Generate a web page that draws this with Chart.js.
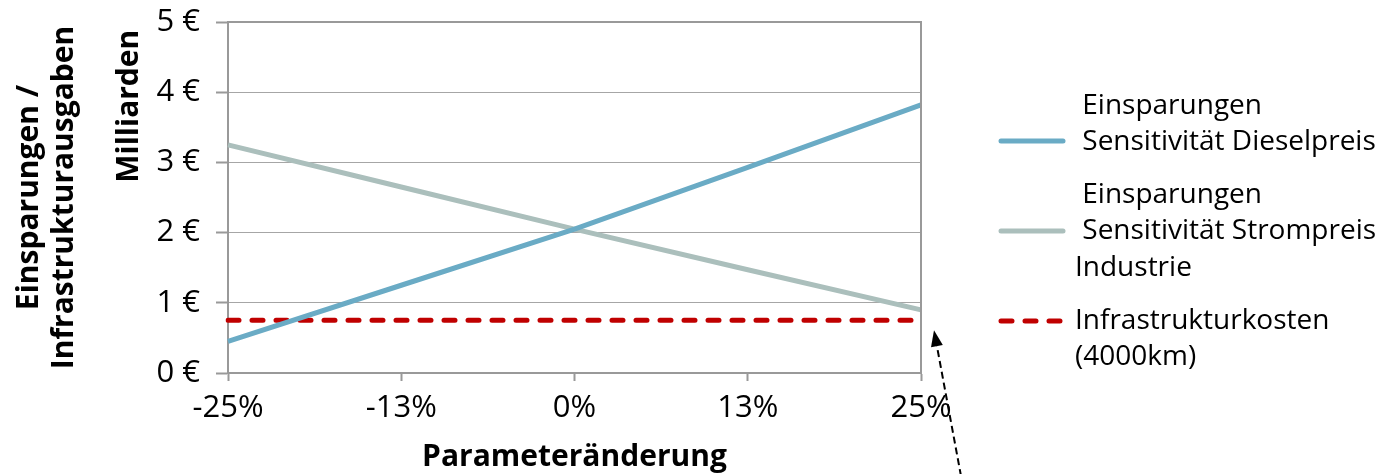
<!DOCTYPE html>
<html>
<head>
<meta charset="utf-8">
<script src="https://cdn.jsdelivr.net/npm/chart.js@4"></script>
<style>
  html, body { margin: 0; padding: 0; background: #fff; }
  #wrap { width: 1387px; height: 474px; position: relative; }
</style>
</head>
<body>
<div id="wrap"><canvas id="c"></canvas></div>
<script>
// Parameter change steps (x axis)
const categories = ['-25%', '-13%', '0%', '13%', '25%'];
// Savings in billion euro when the diesel price varies
const dieselSavings = [0.45, 1.25, 2.05, 2.93, 3.82];
// Savings in billion euro when the industrial electricity price varies
const powerSavings = [3.25, 2.65, 2.05, 1.47, 0.90];
// Infrastructure cost for 4000 km, constant
const infraCost = [0.75, 0.75, 0.75, 0.75, 0.75];
// Value axis ticks (billion euro)
const yTicks = [0, 1, 2, 3, 4, 5];

const legendItems = [
  { lines: [' Einsparungen', ' Sensitivität Dieselpreis'], color: '#6AABC5', dash: [] },
  { lines: [' Einsparungen', ' Sensitivität Strompreis', 'Industrie'], color: '#ABBFBC', dash: [] },
  { lines: ['Infrastrukturkosten', '(4000km)'], color: '#C00000', dash: [11, 13] }
];

const FONT = '"Open Sans", "Liberation Sans", sans-serif';
const TICK_FS = 31;
const TITLE_FS = 30;
const LEGEND_FS = 28;

// Frame (top and right edges), "Milliarden" label, legend and pointer arrow
const extras = {
  id: 'extras',
  afterDraw(chart) {
    const { ctx, chartArea: a, scales: { x, y } } = chart;
    ctx.save();
    // frame
    ctx.strokeStyle = '#999';
    ctx.lineWidth = 2;
    ctx.beginPath();
    ctx.moveTo(a.left, a.top);
    ctx.lineTo(a.right, a.top);
    ctx.lineTo(a.right, a.bottom);
    ctx.stroke();

    // unit label
    ctx.fillStyle = '#000';
    ctx.font = 'bold ' + TITLE_FS + 'px ' + FONT;
    ctx.textAlign = 'center';
    ctx.textBaseline = 'middle';
    ctx.translate(129, y.getPixelForValue(3.8));
    ctx.rotate(-Math.PI / 2);
    ctx.fillText('Milliarden', 0, 0);
    ctx.setTransform(1, 0, 0, 1, 0, 0);

    // legend
    const lx0 = 998, lx1 = 1066;
    const rows = [
      { lineY: 141, firstY: 106, textX: 1075 },
      { lineY: 231, firstY: 195, textX: 1075 },
      { lineY: 321, firstY: 321, textX: 1075 }
    ];
    ctx.font = LEGEND_FS + 'px ' + FONT;
    ctx.textAlign = 'left';
    ctx.textBaseline = 'middle';
    legendItems.forEach((it, i) => {
      const r = rows[i];
      ctx.strokeStyle = it.color;
      ctx.lineWidth = 5;
      ctx.lineCap = 'round';
      ctx.setLineDash(it.dash);
      ctx.beginPath();
      ctx.moveTo(lx0 + 3, r.lineY);
      ctx.lineTo(lx1 - 3, r.lineY);
      ctx.stroke();
      ctx.setLineDash([]);
      ctx.fillStyle = '#000';
      it.lines.forEach((t, k) => ctx.fillText(t, r.textX, r.firstY + k * 36.5));
    });

    // pointer arrow to the end of the infrastructure cost line
    const tipX = x.getPixelForValue(4) + 13;
    const tipY = y.getPixelForValue(0.75) + 10;
    const tailX = tipX + 27, tailY = chart.height + 2;
    const ang = Math.atan2(tipY - tailY, tipX - tailX);
    const headLen = 16, headW = 6;
    const bx = tipX - Math.cos(ang) * headLen, by = tipY - Math.sin(ang) * headLen;
    ctx.strokeStyle = '#000';
    ctx.lineWidth = 2;
    ctx.lineCap = 'butt';
    ctx.setLineDash([7, 4]);
    ctx.beginPath();
    ctx.moveTo(tailX, tailY);
    ctx.lineTo(bx, by);
    ctx.stroke();
    ctx.setLineDash([]);
    ctx.fillStyle = '#000';
    ctx.beginPath();
    ctx.moveTo(tipX, tipY);
    ctx.lineTo(bx + Math.sin(ang) * headW, by - Math.cos(ang) * headW);
    ctx.lineTo(bx - Math.sin(ang) * headW, by + Math.cos(ang) * headW);
    ctx.closePath();
    ctx.fill();
    ctx.restore();
  }
};

new Chart(document.getElementById('c'), {
  type: 'line',
  data: {
    labels: categories,
    datasets: [
      { label: 'Einsparungen Sensitivität Dieselpreis', data: dieselSavings,
        borderColor: '#6AABC5', borderWidth: 5, pointRadius: 0, tension: 0 },
      { label: 'Einsparungen Sensitivität Strompreis Industrie', data: powerSavings,
        borderColor: '#ABBFBC', borderWidth: 5, pointRadius: 0, tension: 0 },
      { label: 'Infrastrukturkosten (4000km)', data: infraCost,
        borderColor: '#C00000', borderWidth: 5, borderDash: [11, 13], borderCapStyle: 'round',
        pointRadius: 0, tension: 0 }
    ]
  },
  options: {
    responsive: true,
    maintainAspectRatio: false,
    animation: false,
    layout: { padding: { top: 22, right: 466, bottom: 0, left: 0 } },
    plugins: { legend: { display: false }, tooltip: { enabled: false } },
    scales: {
      x: {
        type: 'category',
        offset: false,
        afterFit: s => { s.height = 101; s.paddingLeft = 0; s.paddingRight = 0; },
        grid: {
          drawOnChartArea: false,
          tickLength: 8,
          tickColor: '#999',
          tickWidth: 2
        },
        border: { color: '#999', width: 2 },
        ticks: { color: '#000', font: { family: FONT, size: TICK_FS }, padding: 9, maxRotation: 0 },
        title: {
          display: true, text: 'Parameteränderung', color: '#000',
          font: { family: FONT, size: TITLE_FS, weight: 'bold', lineHeight: 1.1 }, padding: { top: 0, bottom: 0 }
        }
      },
      y: {
        min: 0, max: 5,
        afterBuildTicks: s => { s.ticks = yTicks.map(v => ({ value: v })); },
        afterFit: s => { s.width = 228; s.paddingTop = 0; s.paddingBottom = 0; },
        grid: {
          color: '#a6a6a6',
          lineWidth: 1,
          borderDash: [2, 2],
          tickBorderDash: [],
          tickLength: 12,
          tickColor: '#999',
          tickWidth: 2
        },
        border: { color: '#999', width: 2 },
        ticks: {
          color: '#000', font: { family: FONT, size: TICK_FS }, padding: 16,
          callback: v => v + ' €'
        },
        title: {
          display: true, text: ['Einsparungen /', 'Infrastrukturausgaben'], color: '#000',
          font: { family: FONT, size: TITLE_FS, weight: 'bold', lineHeight: 1.17 }, padding: { top: 12, bottom: 0 }
        }
      }
    }
  },
  plugins: [extras]
});
</script>
</body>
</html>
